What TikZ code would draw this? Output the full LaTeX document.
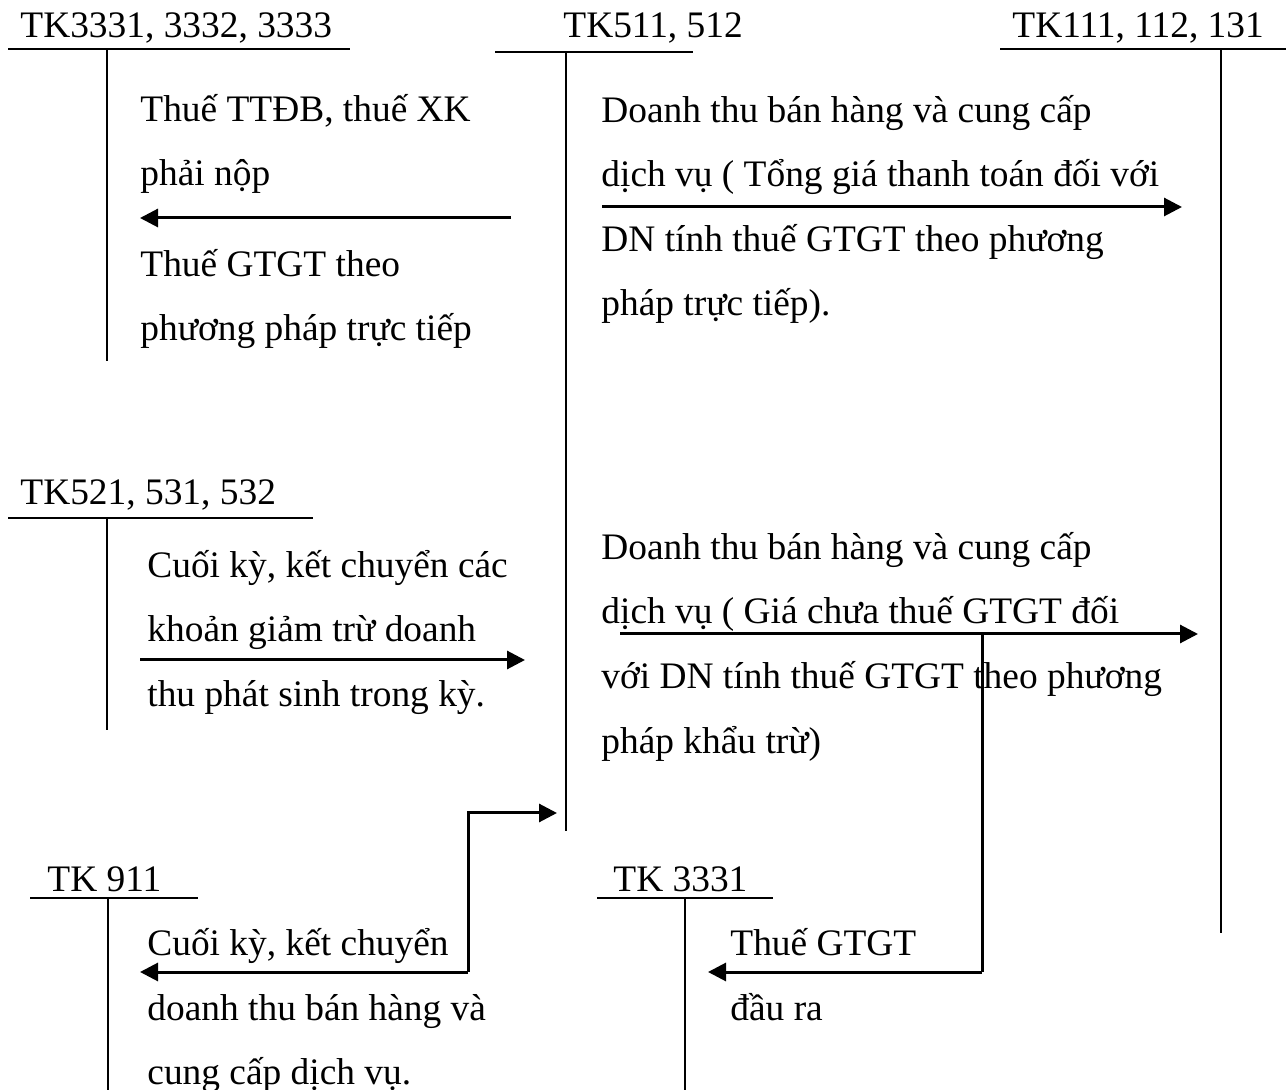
\documentclass[tikz,border=0pt]{standalone}
\usepackage{fontspec}
\setmainfont{Liberation Serif}
\usetikzlibrary{arrows.meta}
\begin{document}
\begin{tikzpicture}[x=0.5pt,y=-0.5pt,
  lbl/.style={anchor=base west, inner sep=0pt, font=\fontsize{18.7}{21}\selectfont},
  acct/.style={line width=1pt},
  flow/.style={line width=1.5pt, -{Triangle[length=9pt,width=9pt]}},
  elbow/.style={line width=1.5pt}]
\useasboundingbox (0,0) rectangle (1286,1090);

% ---- T-accounts: titles, top rules, centre lines ----
\node[lbl] (t3331a) at (20,38) {TK3331, 3332, 3333};
\coordinate (a1l) at (8,49);   \coordinate (a1r) at (350,49);
\coordinate (a1t) at (107,49); \coordinate (a1b) at (107,361);
\draw[acct] (a1l) -- (a1r); \draw[acct] (a1t) -- (a1b);

\node[lbl] (t511) at (563,38) {TK511, 512};
\coordinate (a2l) at (495,52);  \coordinate (a2r) at (693,52);
\coordinate (a2t) at (566,52);  \coordinate (a2b) at (566,831);
\draw[acct] (a2l) -- (a2r); \draw[acct] (a2t) -- (a2b);

\node[lbl] (t111) at (1012,38) {TK111, 112, 131};
\coordinate (a3l) at (1000,49); \coordinate (a3r) at (1286,49);
\coordinate (a3t) at (1221,49); \coordinate (a3b) at (1221,933);
\draw[acct] (a3l) -- (a3r); \draw[acct] (a3t) -- (a3b);

\node[lbl] (t521) at (20,505) {TK521, 531, 532};
\coordinate (a4l) at (8,518);   \coordinate (a4r) at (313,518);
\coordinate (a4t) at (107,518); \coordinate (a4b) at (107,730);
\draw[acct] (a4l) -- (a4r); \draw[acct] (a4t) -- (a4b);

\node[lbl] (t911) at (47,892) {TK 911};
\coordinate (a5l) at (30,898);  \coordinate (a5r) at (198,898);
\coordinate (a5t) at (108,898); \coordinate (a5b) at (108,1090);
\draw[acct] (a5l) -- (a5r); \draw[acct] (a5t) -- (a5b);

\node[lbl] (t3331b) at (613,892) {TK 3331};
\coordinate (a6l) at (597,898); \coordinate (a6r) at (773,898);
\coordinate (a6t) at (685,898); \coordinate (a6b) at (685,1090);
\draw[acct] (a6l) -- (a6r); \draw[acct] (a6t) -- (a6b);

% ---- 511 -> 3331, 3332, 3333 ----
\node[lbl] (n1a) at (140,122) {Thuế TTĐB, thuế XK};
\node[lbl] (n1b) at (140,186) {phải nộp};
\node[lbl] (n1c) at (140,277) {Thuế GTGT theo};
\node[lbl] (n1d) at (140,341) {phương pháp trực tiếp};
\coordinate (f1s) at (511,218); \coordinate (f1e) at (140,218);
\draw[flow] (f1s) -- (f1e);

% ---- 511 -> 111 (direct method) ----
\node[lbl] (n2a) at (601,123) {Doanh thu bán hàng và cung cấp};
\node[lbl] (n2b) at (601,187) {dịch vụ ( Tổng giá thanh toán đối với};
\node[lbl] (n2c) at (601,252) {DN tính thuế GTGT theo phương};
\node[lbl] (n2d) at (601,316) {pháp trực tiếp).};
\coordinate (f2s) at (602,207); \coordinate (f2e) at (1182,207);
\draw[flow] (f2s) -- (f2e);

% ---- 521, 531, 532 -> 511 ----
\node[lbl] (n3a) at (147,578) {Cuối kỳ, kết chuyển các};
\node[lbl] (n3b) at (147,642) {khoản giảm trừ doanh};
\node[lbl] (n3c) at (147,707) {thu phát sinh trong kỳ.};
\coordinate (f3s) at (140,660); \coordinate (f3e) at (525,660);
\draw[flow] (f3s) -- (f3e);

% ---- 511 -> 111 (deduction method), with VAT split to 3331 ----
\node[lbl] (n4a) at (601,560) {Doanh thu bán hàng và cung cấp};
\node[lbl] (n4b) at (601,624) {dịch vụ ( Giá chưa thuế GTGT đối};
\node[lbl] (n4c) at (601,689) {với DN tính thuế GTGT theo phương};
\node[lbl] (n4d) at (601,754) {pháp khẩu trừ)};
\coordinate (f4s) at (620,634); \coordinate (f4e) at (1198,634);
\draw[flow] (f4s) -- (f4e);
\coordinate (v1t) at (982,634); \coordinate (v1b) at (982,972);
\coordinate (v1e) at (708,972);
\draw[elbow] (v1t) -- (v1b);
\draw[flow] (v1b) -- (v1e);
\node[lbl] (n5a) at (730,955) {Thuế GTGT};
\node[lbl] (n5b) at (730,1020) {đầu ra};

% ---- 511 <-> 911 closing entry ----
\coordinate (s1a) at (468,972); \coordinate (s1b) at (468,813);
\coordinate (s1c) at (557,813); \coordinate (s1d) at (140,972);
\draw[flow] (s1a) -- (s1b) -- (s1c);
\draw[flow] (s1a) -- (s1d);
\node[lbl] (n6a) at (147,955) {Cuối kỳ, kết chuyển};
\node[lbl] (n6b) at (147,1020) {doanh thu bán hàng và};
\node[lbl] (n6c) at (147,1084) {cung cấp dịch vụ.};
\end{tikzpicture}
\end{document}
